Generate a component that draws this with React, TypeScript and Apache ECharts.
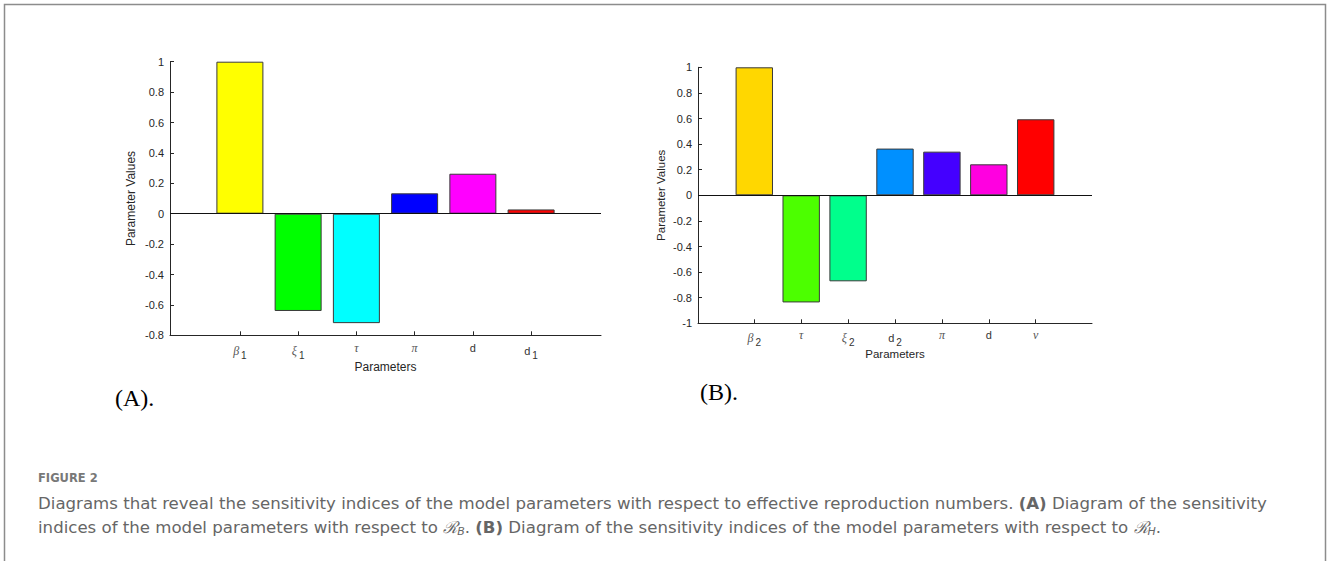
import React, { useEffect, useRef } from "react";
import * as echarts from "echarts";

// ---- Data ----
const namesA = ["β|1", "ξ|1", "τ|", "π|", "d|", "d|1"];
const valuesA = [1.0, -0.64, -0.72, 0.134, 0.263, 0.028];
const colorsA = ["#FFFF00", "#00FF00", "#00FFFF", "#0000FF", "#FF00FF", "#FF0000"];

const namesB = ["β|2", "τ|", "ξ|2", "d|2", "π|", "d|", "ν|"];
const valuesB = [1.0, -0.837, -0.672, 0.365, 0.341, 0.242, 0.594];
const colorsB = ["#FFD700", "#4CFF00", "#00FF8C", "#0090FF", "#4400FF", "#FF00E0", "#FF0000"];

const yTicksA = { min: -0.8, max: 1, interval: 0.2 };
const yTicksB = { min: -1, max: 1, interval: 0.2 };

const AXIS_COLOR = "#262626";
const SANS = "'Liberation Sans', Arial, sans-serif";
const SERIF = "'Liberation Serif', 'DejaVu Serif', serif";
const greek = /[α-ωΑ-Ω]/;

function labelFormatter(names: string[]) {
  return (v: number) => {
    const idx = Math.round(v) - 1;
    const n = names[idx];
    if (!n) return "";
    const [main, sub] = n.split("|");
    const mainTok = greek.test(main) ? `{g|${main}}` : `{d|${main}}`;
    return sub ? `${mainTok}{s|${sub}}` : mainTok;
  };
}

const labelRich = {
  g: { fontFamily: SERIF, fontStyle: "italic", fontSize: 12, color: "#555" },
  d: { fontFamily: SANS, fontSize: 11, color: "#333" },
  s: { fontFamily: SANS, fontSize: 10, color: "#333", padding: [8, 0, 0, 2] },
};

function makeAxes(
  gridIndex: number,
  n: number,
  names: string[],
  yt: { min: number; max: number; interval: number },
  nameGapX: number,
  nameGapY: number,
  nameSize: number,
  labelMarginX: number
) {
  const ticks = names.map((_, i) => i + 1);
  const xAxis = {
    type: "value",
    gridIndex,
    min: -0.2,
    max: n + 1.2,
    axisLine: { show: true, onZero: false, lineStyle: { color: AXIS_COLOR, width: 1 } },
    axisTick: { show: true, inside: true, length: 4, customValues: ticks, lineStyle: { color: AXIS_COLOR } },
    axisLabel: {
      show: true,
      customValues: ticks,
      formatter: labelFormatter(names),
      rich: labelRich,
      margin: labelMarginX,
    },
    splitLine: { show: false },
    name: "Parameters",
    nameLocation: "middle",
    nameGap: nameGapX,
    nameTextStyle: { fontFamily: SANS, fontSize: nameSize, color: AXIS_COLOR },
  };
  const yAxis = {
    type: "value",
    gridIndex,
    min: yt.min,
    max: yt.max,
    interval: yt.interval,
    axisLine: { show: true, onZero: false, lineStyle: { color: AXIS_COLOR, width: 1 } },
    axisTick: { show: true, inside: true, length: 4, lineStyle: { color: AXIS_COLOR } },
    axisLabel: {
      fontFamily: SANS,
      fontSize: 11,
      color: AXIS_COLOR,
      margin: 6,
      formatter: (v: number) => String(Math.round(v * 10) / 10),
    },
    splitLine: { show: false },
    name: "Parameter Values",
    nameLocation: "middle",
    nameGap: nameGapY,
    nameTextStyle: { fontFamily: SANS, fontSize: nameSize, color: AXIS_COLOR },
  };
  return { xAxis, yAxis };
}

function makeSeries(idx: number, values: number[], colors: string[], barWidth: number) {
  return {
    type: "bar",
    xAxisIndex: idx,
    yAxisIndex: idx,
    barWidth,
    data: values.map((v, i) => ({
      value: [i + 1, v],
      itemStyle: { color: colors[i], borderColor: "#3a3a3a", borderWidth: 1 },
    })),
    markLine: {
      silent: true,
      symbol: ["none", "none"],
      label: { show: false },
      lineStyle: { color: "#111", width: 1, type: "solid" },
      data: [{ yAxis: 0 }],
    },
  };
}

export default function App() {
  const ref = useRef<HTMLDivElement>(null);
  useEffect(() => {
    if (!ref.current) return;
    const chart = echarts.init(ref.current, undefined, { renderer: "svg" });
    const a = makeAxes(0, namesA.length, namesA, yTicksA, 24, 33, 12, 7);
    const b = makeAxes(1, namesB.length, namesB, yTicksB, 22, 31, 11.5, 6);
    const CAP = "'DejaVu Sans', 'Open Sans', sans-serif";
    const capColor = "#666666";
    const capSize = 16.6;
    chart.setOption({
      animation: false,
      backgroundColor: "#ffffff",
      grid: [
        { left: 170, top: 61.7, width: 431, height: 273.6 },
        { left: 698, top: 67.3, width: 394, height: 256 },
      ],
      xAxis: [a.xAxis, b.xAxis],
      yAxis: [a.yAxis, b.yAxis],
      series: [makeSeries(0, valuesA, colorsA, 47), makeSeries(1, valuesB, colorsB, 37.4)],
      graphic: [
        {
          type: "rect",
          shape: { x: 4.5, y: 4.5, width: 1321, height: 640 },
          style: { fill: "none", stroke: "#8c8c8c", lineWidth: 1.5 },
          silent: true,
        },
        {
          type: "text",
          x: 115,
          y: 398,
          style: { text: "(A).", font: `24px ${SERIF}`, fill: "#000", verticalAlign: "middle" },
        },
        {
          type: "text",
          x: 700,
          y: 392,
          style: { text: "(B).", font: `24px ${SERIF}`, fill: "#000", verticalAlign: "middle" },
        },
        {
          type: "text",
          x: 38,
          y: 478,
          style: {
            text: "FIGURE 2",
            font: `bold 11.5px ${CAP}`,
            fill: "#787878",
            verticalAlign: "middle",
          },
        },
        {
          type: "text",
          x: 38,
          y: 503,
          style: {
            text:
              "Diagrams that reveal the sensitivity indices of the model parameters with respect to effective reproduction numbers. {b|(A)} Diagram of the sensitivity",
            font: `${capSize}px ${CAP}`,
            fill: capColor,
            verticalAlign: "middle",
            rich: {
              b: { fontFamily: CAP, fontSize: capSize, fontWeight: 700, color: "#4a4a4a" },
            },
          },
        },
        {
          type: "text",
          x: 38,
          y: 527,
          style: {
            text:
              "indices of the model parameters with respect to {R|ℛ}{s|B}. {b|(B)} Diagram of the sensitivity indices of the model parameters with respect to {R|ℛ}{s|H}.",
            font: `${capSize}px ${CAP}`,
            fill: capColor,
            verticalAlign: "middle",
            rich: {
              b: { fontFamily: CAP, fontSize: capSize, fontWeight: 700, color: "#4a4a4a" },
              R: { fontFamily: "'DejaVu Serif', serif", fontStyle: "italic", fontSize: capSize, color: capColor },
              s: { fontFamily: CAP, fontStyle: "italic", fontSize: 11, color: capColor, padding: [8, 0, 0, 0] },
            },
          },
        },
      ],
    });
    return () => chart.dispose();
  }, []);
  return (
    <div
      ref={ref}
      style={{ position: "fixed", left: 0, top: 0, width: 1328, height: 561, background: "#fff" }}
    />
  );
}
